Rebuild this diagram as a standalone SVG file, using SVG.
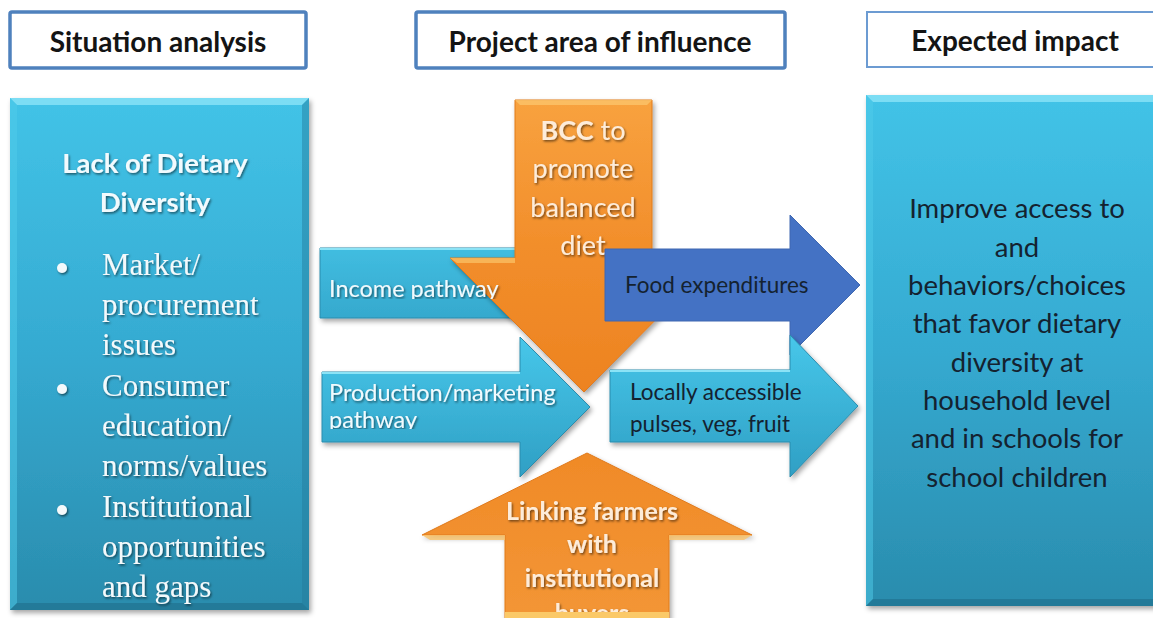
<svg xmlns="http://www.w3.org/2000/svg" width="1153" height="618" viewBox="0 0 1153 618">
<style>
.hdr{fill:#ffffff;stroke:#4f81bd;stroke-width:3.5}
.hdr2{fill:#ffffff;stroke:#6c9bd2;stroke-width:2}
.htxt{font-family:Lato,"Liberation Sans",sans-serif;font-weight:bold;font-size:28px;fill:#141414;text-anchor:middle}
.sans{font-family:Lato,"Liberation Sans",sans-serif}
.serif{font-family:"Liberation Serif",serif;font-size:31px;fill:#f4f9fb}
.wt{fill:#f2fafd}
.dk{fill:#142230}
.ot{fill:#fdecda}
.mid{text-anchor:middle}
.teal{fill:url(#gTealA);stroke:#2a8cad;stroke-width:1}
.orange{fill:url(#gOrange);stroke:#e07a1c;stroke-width:1}
</style>
<defs>
<linearGradient id="gTeal" x1="0" y1="0" x2="0" y2="1">
<stop offset="0" stop-color="#42c3e7"/>
<stop offset="0.5" stop-color="#35aad1"/>
<stop offset="1" stop-color="#2a8cad"/>
</linearGradient>
<linearGradient id="gTealA" x1="0" y1="0" x2="0" y2="1">
<stop offset="0" stop-color="#47c7ea"/>
<stop offset="1" stop-color="#2f9fc4"/>
</linearGradient>
<linearGradient id="gOrange" x1="0" y1="0" x2="0" y2="1">
<stop offset="0" stop-color="#f8a23f"/>
<stop offset="0.5" stop-color="#f28e2b"/>
<stop offset="1" stop-color="#ed8321"/>
</linearGradient>
<linearGradient id="gOrangeUp" x1="0" y1="0" x2="0" y2="1">
<stop offset="0" stop-color="#f08a27"/>
<stop offset="1" stop-color="#f39636"/>
</linearGradient>
<filter id="shadow" x="-10%" y="-10%" width="130%" height="130%">
<feDropShadow dx="2" dy="3" stdDeviation="2.5" flood-color="#000" flood-opacity="0.35"/>
</filter>
<filter id="tshadow" x="-10%" y="-20%" width="120%" height="150%">
<feDropShadow dx="1.2" dy="1.5" stdDeviation="1" flood-color="#000" flood-opacity="0.55"/>
</filter>
<clipPath id="clipIncome"><rect x="320" y="240" width="300" height="59"/></clipPath>
<clipPath id="clipProd"><rect x="320" y="360" width="300" height="69"/></clipPath>
<clipPath id="clipLink"><rect x="420" y="450" width="340" height="163"/></clipPath>
</defs>

<g id="hdr-situation">
<rect class="hdr" x="10" y="12" width="296" height="56" rx="2"/>
<text class="htxt" x="158" y="52">Situation analysis</text>
</g>
<g id="hdr-project">
<rect class="hdr" x="416" y="12" width="369" height="56" rx="2"/>
<text class="htxt" x="600" y="52">Project area of influence</text>
</g>
<g id="hdr-impact">
<rect class="hdr2" x="867" y="12" width="292" height="55"/>
<text class="htxt" x="1015" y="51">Expected impact</text>
</g>

<g id="node-situation">
<rect x="10" y="98" width="299" height="512" fill="url(#gTeal)" filter="url(#shadow)"/>
<polygon points="10,98 309,98 302,105 17,105" fill="#86e2f6" opacity="0.85"/>
<polygon points="10,98 17,105 17,603 10,610" fill="#4fcbe9" opacity="0.5"/>
<polygon points="309,98 309,610 302,603 302,105" fill="#23799a" opacity="0.45"/>
<polygon points="10,610 309,610 302,603 17,603" fill="#1f6e8b" opacity="0.6"/>
<g filter="url(#tshadow)">
<text class="sans wt mid" font-weight="bold" font-size="27.5" x="155" y="173">Lack of Dietary</text>
<text class="sans wt mid" font-weight="bold" font-size="27.5" x="155" y="212">Diversity</text>
<circle cx="62" cy="268" r="5" fill="#f4f9fb"/>
<circle cx="62" cy="389" r="5" fill="#f4f9fb"/>
<circle cx="62" cy="510" r="5" fill="#f4f9fb"/>
<text class="serif" x="102" y="275">Market/</text>
<text class="serif" x="102" y="315">procurement</text>
<text class="serif" x="102" y="355">issues</text>
<text class="serif" x="102" y="396">Consumer</text>
<text class="serif" x="102" y="436">education/</text>
<text class="serif" x="102" y="476">norms/values</text>
<text class="serif" x="102" y="517">Institutional</text>
<text class="serif" x="102" y="557">opportunities</text>
<text class="serif" x="102" y="597">and gaps</text>
</g>
</g>

<g id="node-impact">
<rect x="866" y="95" width="295" height="511" fill="url(#gTeal)" filter="url(#shadow)"/>
<polygon points="866,95 1161,95 1154,102 873,102" fill="#86e2f6" opacity="0.85"/>
<polygon points="866,95 873,102 873,599 866,606" fill="#4fcbe9" opacity="0.5"/>
<polygon points="866,606 1161,606 1154,599 873,599" fill="#1f6e8b" opacity="0.6"/>
<g class="sans dk mid" font-size="27.5">
<text x="1017" y="218">Improve access to</text>
<text x="1017" y="257">and</text>
<text x="1017" y="295">behaviors/choices</text>
<text x="1017" y="333">that favor dietary</text>
<text x="1017" y="372">diversity at</text>
<text x="1017" y="410">household level</text>
<text x="1017" y="448">and in schools for</text>
<text x="1017" y="487">school children</text>
</g>
</g>

<g id="connectors">
<g id="arrow-income">
<path class="teal" d="M320,248 H545 V213 L600,283 L545,353 V318 H320 Z" filter="url(#shadow)"/>
<polyline points="320,249 545,249" stroke="#8be3f6" stroke-width="2" fill="none"/>
</g>
<g id="arrow-production">
<path class="teal" d="M322,372 H520 V337 L590,407 L520,477 V442 H322 Z" filter="url(#shadow)"/>
<polyline points="322,373 520,373" stroke="#8be3f6" stroke-width="2" fill="none"/>
<g clip-path="url(#clipProd)" class="sans wt" font-size="23.5" filter="url(#tshadow)">
<text x="329" y="401">Production/marketing</text>
<text x="329" y="428">pathway</text>
</g>
</g>
<g id="arrow-linking">
<path d="M587,453 L752,535 H669 V625 H505 V535 H422 Z" fill="url(#gOrangeUp)" stroke="#e07a1c" stroke-width="1" filter="url(#shadow)"/>
<polygon points="422,535 505,535 505,540 430,540" fill="#fbc46a" opacity="0.8"/>
<polygon points="669,535 752,535 744,540 669,540" fill="#fbc46a" opacity="0.8"/>
<g clip-path="url(#clipLink)" class="sans ot mid" font-weight="bold" font-size="25" filter="url(#tshadow)">
<text x="592" y="520">Linking farmers</text>
<text x="592" y="553">with</text>
<text x="592" y="587">institutional</text>
<text x="592" y="622">buyers</text>
</g>
<rect x="505" y="612" width="164" height="6" fill="#fbc968"/>
</g>
<g id="arrow-bcc">
<path class="orange" d="M515,100 H652 V258 H717 L584,392 L450,258 H515 Z" filter="url(#shadow)"/>
<polygon points="515,100 652,100 647,105 520,105" fill="#fbc46a" opacity="0.8"/>
<polygon points="450,258 515,258 515,263 457,263" fill="#fbc46a" opacity="0.7"/>
<g class="sans ot mid" font-size="27" filter="url(#tshadow)">
<text x="583" y="140"><tspan font-weight="bold">BCC</tspan> to</text>
<text x="583" y="178">promote</text>
<text x="583" y="217">balanced</text>
<text x="583" y="255">diet</text>
</g>
</g>
<g clip-path="url(#clipIncome)" class="sans wt" font-size="23.5" filter="url(#tshadow)">
<text x="329" y="297">Income pathway</text>
</g>
<g id="arrow-food">
<path d="M605,249 H790 V215 L860,285 L790,355 V321 H605 Z" fill="#4472c4" stroke="#3e67b1" stroke-width="1"/>
<text class="sans dk" font-size="22.5" x="625" y="293">Food expenditures</text>
</g>
<g id="arrow-local">
<path class="teal" d="M610,370 H790 V335 L858,406 L790,477 V442 H610 Z" filter="url(#shadow)"/>
<polyline points="610,371 790,371" stroke="#8be3f6" stroke-width="2" fill="none"/>
<g class="sans dk" font-size="22.5">
<text x="630" y="400">Locally accessible</text>
<text x="630" y="432">pulses, veg, fruit</text>
</g>
</g>
</g>
</svg>
